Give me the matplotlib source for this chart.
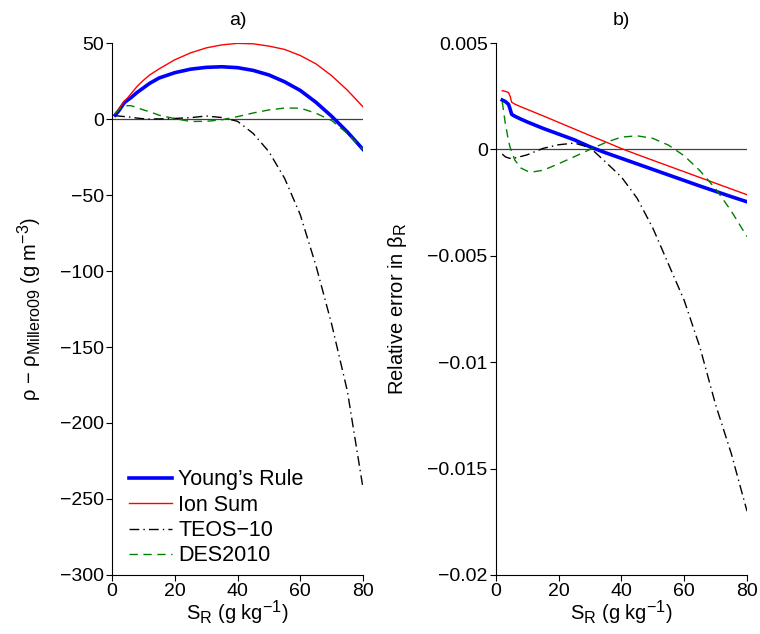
import matplotlib
matplotlib.use("Agg")
import matplotlib.pyplot as plt
from matplotlib.ticker import FuncFormatter
try:
    import matplotlib._mathtext as _mt
    _mt.SHRINK_FACTOR = 0.8
except Exception:
    pass

plt.rcParams['font.family'] = ['Liberation Sans', 'DejaVu Sans']
plt.rcParams['mathtext.fontset'] = 'custom'
plt.rcParams['mathtext.rm'] = 'Liberation Sans'
plt.rcParams['mathtext.it'] = 'Liberation Sans:italic'
plt.rcParams['mathtext.bf'] = 'Liberation Sans:bold'
plt.rcParams['font.size'] = 14

# ---------------- Panel a) density difference (g m^-3) ----------------
S_a = [1, 2, 3, 4, 5, 6, 8, 10, 12, 15, 20, 25, 30, 35, 40, 45, 50, 55, 60, 65, 70, 75, 80]
young_a = [2.6, 5, 8, 11, 12.5, 14, 17.5, 20.5, 23.5, 27, 30.5, 32.8, 34, 34.4, 33.8, 32,
           29, 24.5, 18.8, 11, 1.8, -8.5, -20]
ionsum_a = [3.5, 6, 9, 12, 14, 16.5, 21.5, 25.5, 29, 33, 39, 43.5, 46.8, 48.8, 49.8, 49.5,
            48, 45.8, 41.8, 36.3, 28.5, 19, 8]
teos_a = [2.2, 2.0, 1.8, 1.6, 1.5, 1.2, 0.6, 0.2, 0.0, 0.1, 0.4, 0.9, 2.0, 1.0, -1.5, -9.5,
          -21.5, -39, -63, -96.5, -135, -179, -243]
des_a = [3.7, 6, 7.5, 8.5, 8.8, 8.8, 7.5, 6, 4.8, 2.5, 0.3, -1.6, -1.5, -0.5, 1.6, 4,
         6, 7.2, 7.2, 3.8, -1, -9.5, -20]

# ---------------- Panel b) relative error in beta_R ----------------
S_b = [2, 3, 4, 4.5, 5, 6, 8, 10, 12, 15, 20, 25, 30, 35, 40, 45, 50, 55, 60, 65, 70, 75, 80]
young_b = [0.00232, 0.00225, 0.00212, 0.0019, 0.00165, 0.00156, 0.00142, 0.00129, 0.00117,
           0.00099, 0.00072, 0.00045, 0.00012, -0.00016, -0.00042, -0.00068, -0.00094,
           -0.0012, -0.00146, -0.00172, -0.00197, -0.00222, -0.00246]
ionsum_b = [0.00276, 0.00273, 0.00267, 0.0025, 0.00222, 0.00213, 0.002, 0.00188, 0.00176,
            0.00158, 0.00127, 0.00096, 0.00065, 0.00035, 0.00004, -0.00024, -0.00051,
            -0.00078, -0.00105, -0.00132, -0.00159, -0.00186, -0.00213]
teos_b = [-0.00022, -0.00035, -0.0004, -0.00042, -0.00042, -0.0004, -0.00033, -0.00025,
          -0.00013, 0.00005, 0.00022, 0.0003, 0.00008, -0.0006, -0.0013, -0.0023, -0.0037,
          -0.0054, -0.0071, -0.0093, -0.012, -0.0143, -0.017]
des_b = [0.00224, 0.0012, 0.0004, 0.0001, -0.0001, -0.0005, -0.00088, -0.00102, -0.00105,
         -0.00098, -0.00067, -0.00034, 0.0, 0.00033, 0.00058, 0.00064, 0.00052, 0.0002,
         -0.0003, -0.001, -0.00185, -0.0029, -0.0041]

labels = ["Young\u2019s Rule", "Ion Sum", "TEOS\u221210", "DES2010"]
yticks_a = [50, 0, -50, -100, -150, -200, -250, -300]
yticks_b = [0.005, 0, -0.005, -0.01, -0.015, -0.02]
xticks = [0, 20, 40, 60, 80]

styles = [
    dict(color='#0000ff', lw=2.6, ls='-'),
    dict(color='#ff0000', lw=1.0, ls='-'),
    dict(color='black', lw=1.0, ls=(0, (7, 3, 1, 3))),
    dict(color='#008000', lw=1.0, ls=(0, (6, 4))),
]

fig = plt.figure(figsize=(7.6, 6.34), dpi=100)
ax1 = fig.add_axes([0.1474, 0.0931, 0.3303, 0.839])
ax2 = fig.add_axes([0.6526, 0.0931, 0.3303, 0.839])


def minus_fmt(v, pos):
    s = f'{v:g}'
    return s.replace('-', '\u2212')


for ax, S, series, yt in [
    (ax1, S_a, [young_a, ionsum_a, teos_a, des_a], yticks_a),
    (ax2, S_b, [young_b, ionsum_b, teos_b, des_b], yticks_b),
]:
    ax.axhline(0, color='0.25', lw=0.9, zorder=1)
    for vals, lab, st in zip(series, labels, styles):
        ax.plot(S, vals, label=lab, zorder=3, **st)
    ax.set_xlim(0, 80)
    ax.set_ylim(min(yt), max(yt))
    ax.set_xticks(xticks)
    ax.set_yticks(yt)
    ax.yaxis.set_major_formatter(FuncFormatter(minus_fmt))
    ax.spines['top'].set_visible(False)
    ax.spines['right'].set_visible(False)
    ax.tick_params(direction='out', length=4, width=0.8, labelsize=14, pad=2)
    ax.set_xlabel('S$_{\\mathrm{R}}$ (g kg$^{-1}$)', fontsize=14.5, labelpad=-1)

ax1.set_title('a)', fontsize=14, pad=13)
ax2.set_title('b)', fontsize=14, pad=13)
ax1.set_ylabel('\u03c1 \u2212 \u03c1$_{\\mathrm{Millero09}}$ (g m$^{-3}$)', fontsize=14.5, labelpad=11)
ax2.set_ylabel('Relative error in \u03b2$_{\\mathrm{R}}$', fontsize=14.5, labelpad=13)

ax1.legend(loc='lower left', bbox_to_anchor=(0.032, 0.0), frameon=False, fontsize=15.5,
           handlelength=2.0, handletextpad=0.3, labelspacing=0.2, borderaxespad=0.0)

fig.savefig('out.png', dpi=100)
